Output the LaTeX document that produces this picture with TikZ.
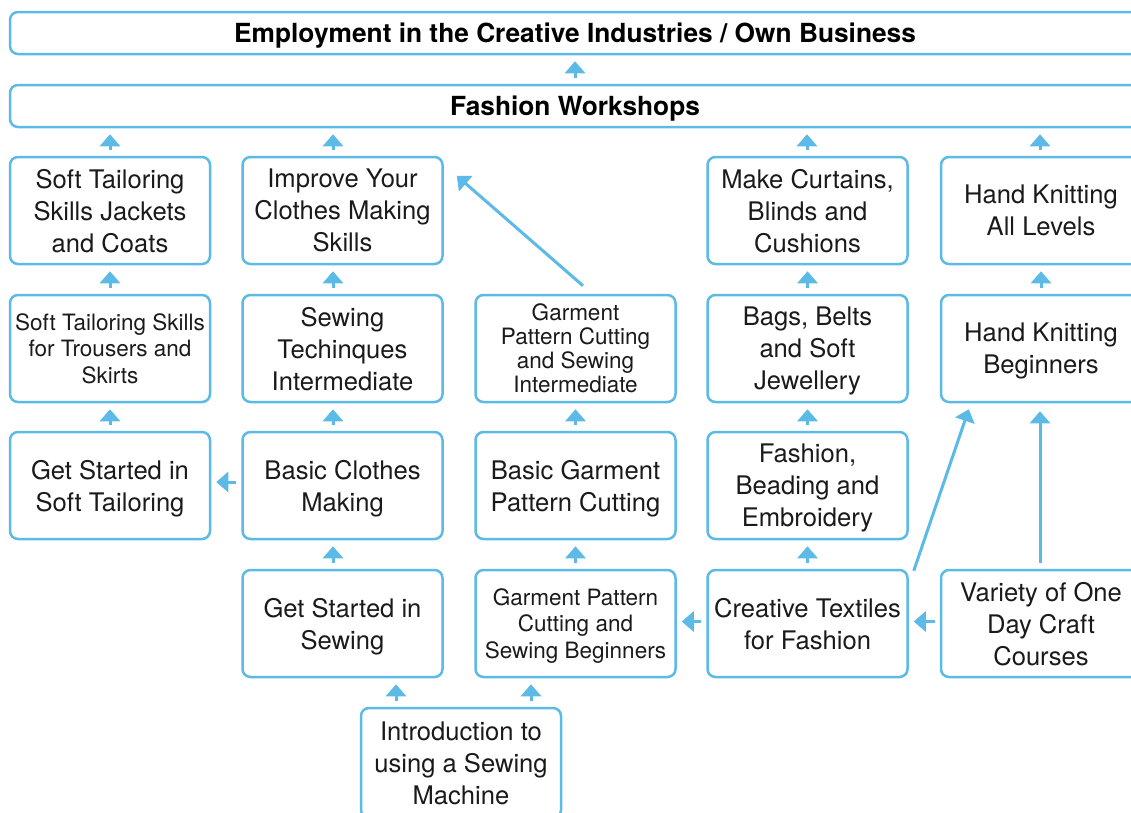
\documentclass[tikz,border=0pt]{standalone}
\usepackage{fontspec}
\setmainfont{TeX Gyre Heros}
\usetikzlibrary{arrows.meta}
\definecolor{lb}{HTML}{5BBAE6}
\definecolor{txt}{HTML}{1A1A1A}
\begin{document}
\begin{tikzpicture}[x=1pt,y=-1pt,
  box/.style={draw=lb, line width=2.5pt, rounded corners=8pt, minimum width=200pt, minimum height=107pt, inner sep=0pt, align=center, text=txt, text depth=0pt, font=\fontsize{25.6}{32}\selectfont},
  sm/.style={font=\fontsize{22.5}{26.5}\selectfont},
  smt/.style={font=\fontsize{22.5}{24}\selectfont},
  bar/.style={draw=lb, line width=2.5pt, rounded corners=8pt, minimum width=1130pt, minimum height=42pt, inner sep=0pt, text=black, text depth=0pt, font=\fontsize{26.3}{30}\selectfont\bfseries},
  arr/.style={draw=lb, line width=3pt, -{Triangle[width=20pt,length=12pt]}, shorten <=6pt, shorten >=6pt}]
\useasboundingbox (0,0) rectangle (1131,812);
\clip (0,0) rectangle (1131,812);
% bars
\node[bar] (top) at (575,33) {Employment in the Creative Industries / Own Business};
\node[bar] (fw) at (575,106) {Fashion Workshops};
% row 1
\node[box] (r1c1) at (110,210.5) {Soft Tailoring\\Skills Jackets\\and Coats};
\node[box] (r1c2) at (342.5,210.5) {Improve Your\\Clothes Making\\Skills};
\node[box] (r1c4) at (807.5,210.5) {Make Curtains,\\Blinds and\\Cushions};
\node[box] (r1c5) at (1041,210.5) {Hand Knitting\\All Levels};
% row 2
\node[box,sm] (r2c1) at (110,348.5) {Soft Tailoring Skills\\for Trousers and\\Skirts};
\node[box] (r2c2) at (342.5,348.5) {Sewing\\Techinques\\Intermediate};
\node[box,smt] (r2c3) at (575.5,348.5) {Garment\\Pattern Cutting\\and Sewing\\Intermediate};
\node[box] (r2c4) at (807.5,348.5) {Bags, Belts\\and Soft\\Jewellery};
\node[box] (r2c5) at (1041,348.5) {Hand Knitting\\Beginners};
% row 3
\node[box] (r3c1) at (110,485.5) {Get Started in\\Soft Tailoring};
\node[box] (r3c2) at (342.5,485.5) {Basic Clothes\\Making};
\node[box] (r3c3) at (575.5,485.5) {Basic Garment\\Pattern Cutting};
\node[box] (r3c4) at (807.5,485.5) {Fashion,\\Beading and\\Embroidery};
% row 4
\node[box] (r4c2) at (342.5,623.5) {Get Started in\\Sewing};
\node[box,sm] (r4c3) at (575.5,623.5) {Garment Pattern\\Cutting and\\Sewing Beginners};
\node[box] (r4c4) at (807.5,623.5) {Creative Textiles\\for Fashion};
\node[box] (r4c5) at (1041,623.5) {Variety of One\\Day Craft\\Courses};
% row 5
\node[box,minimum height=110pt] (intro) at (461,763) {Introduction to\\using a Sewing\\Machine};
% arrows to bars
\draw[arr] (fw.north) -- (top.south);
\draw[arr] (r1c1.north) -- (r1c1.north |- fw.south);
\draw[arr] ([xshift=-9.5pt]r1c2.north) -- ([xshift=-9.5pt]r1c2.north |- fw.south);
\draw[arr] ([xshift=-0.5pt]r1c4.north) -- ([xshift=-0.5pt]r1c4.north |- fw.south);
\draw[arr] ([xshift=-1pt]r1c5.north) -- ([xshift=-1pt]r1c5.north |- fw.south);
% column 1
\draw[arr] (r2c1.north) -- (r1c1.south);
\draw[arr] (r3c1.north) -- (r2c1.south);
% column 2
\draw[arr] ([xshift=-9.5pt]r2c2.north) -- ([xshift=-9.5pt]r1c2.south);
\draw[arr] ([xshift=-9.5pt]r3c2.north) -- ([xshift=-9.5pt]r2c2.south);
\draw[arr] ([xshift=-9.5pt]r4c2.north) -- ([xshift=-9.5pt]r3c2.south);
% column 3
\draw[arr] (r3c3.north) -- (r2c3.south);
\draw[arr] (r4c3.north) -- (r3c3.south);
\draw[arr, shorten <=0pt, shorten >=0pt] ([shift={(7.5,-8)}]r2c3.north) -- ([shift={(13,20)}]r1c2.north east);
% column 4
\draw[arr] (r2c4.north) -- (r1c4.south);
\draw[arr] (r3c4.north) -- (r2c4.south);
\draw[arr] (r4c4.north) -- (r3c4.south);
% column 5
\draw[arr] (r2c5.north) -- (r1c5.south);
\draw[arr, shorten >=8pt] ([xshift=-1pt]r4c5.north) -- ([xshift=-1pt]r2c5.south);
\draw[arr, shorten <=0pt, shorten >=0pt] ([shift={(5,2)}]r4c4.north east) -- ([shift={(29,6)}]r2c5.south west);
% horizontal
\draw[arr, shorten <=5pt, shorten >=5pt] ([yshift=3.5pt]r3c2.west) -- ([yshift=3.5pt]r3c2.west -| r3c1.east);
\draw[arr, shorten <=5pt, shorten >=5pt] ([yshift=2pt]r4c4.west) -- ([yshift=2pt]r4c4.west -| r4c3.east);
\draw[arr, shorten <=5pt, shorten >=5pt] ([yshift=2pt]r4c5.west) -- ([yshift=2pt]r4c5.west -| r4c4.east);
% intro
\draw[arr] ([xshift=-65pt]intro.north) -- ([xshift=-65pt]intro.north |- r4c2.south);
\draw[arr] ([xshift=70pt]intro.north) -- ([xshift=70pt]intro.north |- r4c3.south);
\end{tikzpicture}
\end{document}
